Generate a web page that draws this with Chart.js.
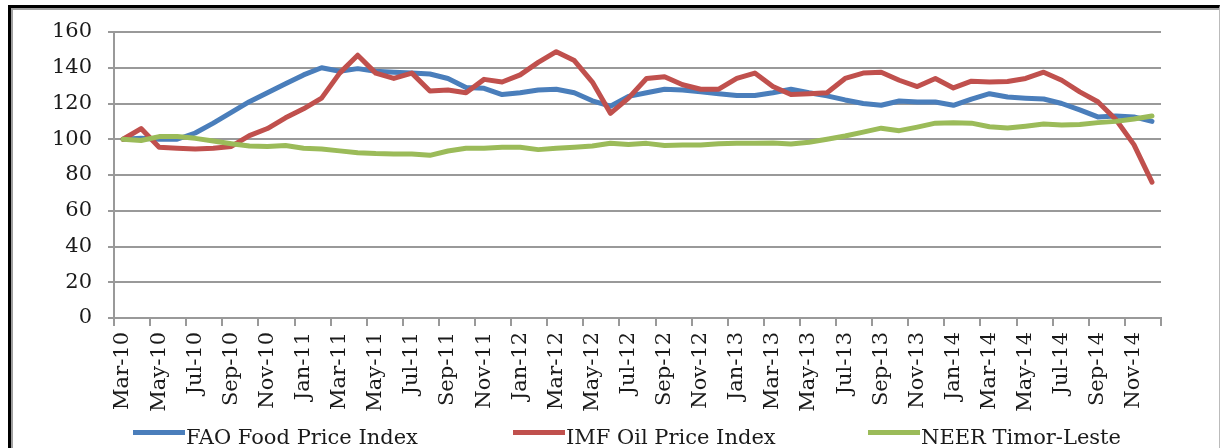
<!doctype html>
<html lang="en">
<head>
<meta charset="utf-8">
<title>FAO Food, IMF Oil and NEER Timor-Leste</title>
<script src="https://cdn.jsdelivr.net/npm/chart.js@4.4.1/dist/chart.umd.min.js"></script>
<style>
  html, body { margin: 0; padding: 0; background: #fff; overflow: hidden; }
  #wrap { position: relative; width: 1220px; height: 448px; overflow: hidden; }
  #cv { position: absolute; left: 0; top: 0; width: 1220px; height: 448px; }
  #frame {
    position: absolute; left: 8px; top: 5px; width: 1208px; height: 470px;
    border-left: 3px solid #000; border-top: 3px solid #000; border-right: 1px solid #bbb;
    box-shadow: inset 2px 2px 0 #a0a0a0; pointer-events: none;
  }
  .lg-line { position: absolute; height: 5px; top: 430px; width: 52px; }
  .lg-text { position: absolute; top: 427px; font: 21px/21px 'DejaVu Serif', serif; color: #1a1a1a; white-space: nowrap; }
</style>
</head>
<body>
<div id="wrap">
  <canvas id="cv"></canvas>
  <div id="legend"></div>
  <div id="frame"></div>
</div>
<script>
// monthly, Mar-10 .. Dec-14 (index = 100 at Mar-10)
const months = [
  "Mar-10","Apr-10","May-10","Jun-10","Jul-10","Aug-10","Sep-10","Oct-10","Nov-10","Dec-10",
  "Jan-11","Feb-11","Mar-11","Apr-11","May-11","Jun-11","Jul-11","Aug-11","Sep-11","Oct-11","Nov-11","Dec-11",
  "Jan-12","Feb-12","Mar-12","Apr-12","May-12","Jun-12","Jul-12","Aug-12","Sep-12","Oct-12","Nov-12","Dec-12",
  "Jan-13","Feb-13","Mar-13","Apr-13","May-13","Jun-13","Jul-13","Aug-13","Sep-13","Oct-13","Nov-13","Dec-13",
  "Jan-14","Feb-14","Mar-14","Apr-14","May-14","Jun-14","Jul-14","Aug-14","Sep-14","Oct-14","Nov-14","Dec-14"
];

const faoFood = [
  100, 100.5, 100, 100, 103.5, 109, 115, 121, 126, 131,
  136, 140, 138, 139.5, 138, 137.5, 137, 136.5, 134, 129, 128.5, 125,
  126, 127.5, 128, 126, 121.5, 118.5, 124, 126, 128, 127.5, 126.5, 125.5,
  124.5, 124.5, 126, 128, 126, 124.3, 122, 120, 119, 121.4, 120.8, 120.8,
  119, 122.5, 125.5, 123.6, 123, 122.5, 120, 116.4, 112.5, 113, 112.5, 110
];

const imfOil = [
  100, 106, 95.5, 95, 94.5, 95, 96, 102, 106, 112,
  117, 123, 137, 147, 137, 134, 137, 127, 127.5, 126, 133.5, 132,
  136, 143, 149, 144, 132, 114.5, 123, 134, 135, 130.5, 128, 128,
  134, 137, 129.5, 125, 125.5, 126, 134, 137, 137.5, 133, 129.5, 134,
  128.7, 132.5, 132, 132.3, 134, 137.5, 133, 126.5, 121, 111, 97, 76
];

const neer = [
  100, 99.3, 101.5, 101.5, 100.5, 99, 97.5, 96.2, 96, 96.5,
  95, 94.5, 93.5, 92.5, 92, 91.8, 91.7, 91, 93.4, 95, 95, 95.5,
  95.5, 94.2, 95, 95.5, 96.2, 97.8, 97, 97.7, 96.5, 96.8, 96.8, 97.5,
  97.8, 97.8, 97.9, 97.3, 98.3, 100, 101.8, 104, 106.2, 104.8, 106.8, 109,
  109.3, 109, 107, 106.3, 107.3, 108.5, 108, 108.3, 109.3, 110, 111.3, 113
];

const yTicks = [0, 20, 40, 60, 80, 100, 120, 140, 160];

const seriesNames = ["FAO Food Price Index", "IMF Oil Price Index", "NEER Timor-Leste"];
const seriesColors = ["#4a7ebb", "#c0504d", "#9bbb59"];

const GRID = "#999999";
const INK = "#1a1a1a";
const FONT = "'DejaVu Serif', serif";

function line(i, data, order) {
  return {
    label: seriesNames[i], data, order,
    borderColor: seriesColors[i], backgroundColor: seriesColors[i],
    borderWidth: 5, pointRadius: 0, tension: 0,
    borderJoinStyle: "round", borderCapStyle: "round",
  };
}

new Chart(document.getElementById("cv"), {
  type: "line",
  data: {
    labels: months,
    // Excel draws later series on top -> lower order = on top
    datasets: [line(0, faoFood, 2), line(1, imfOil, 1), line(2, neer, 0)],
  },
  options: {
    responsive: true, maintainAspectRatio: false, animation: false,
    layout: { padding: { left: 0, right: 59, top: 32, bottom: 0 } },
    plugins: { legend: { display: false }, tooltip: { enabled: false } },
    scales: {
      x: {
        type: "category", offset: true,
        grid: {
          offset: true, drawOnChartArea: false, drawTicks: true, tickLength: 8, lineWidth: 2,
          // tick marks only every second month boundary (plus the closing one)
          tickColor: (ctx) => (ctx.index === undefined || ctx.index % 2 === 0 ? GRID : "rgba(0,0,0,0)"),
        },
        border: { display: true, color: GRID, width: 2 },
        ticks: {
          autoSkip: false, maxRotation: 90, minRotation: 90, padding: 6,
          color: INK, font: { family: FONT, size: 21 },
          callback: function (v, i) { return i % 2 === 0 ? this.getLabelForValue(v) : ""; },
        },
        afterFit: (s) => { s.height = 130; },
      },
      y: {
        min: 0, max: 160,
        afterBuildTicks: (s) => { s.ticks = yTicks.map((v) => ({ value: v })); },
        grid: { color: GRID, lineWidth: 2, tickLength: 6, tickColor: GRID },
        border: { display: true, color: GRID, width: 2 },
        ticks: { padding: 16, color: INK, font: { family: FONT, size: 21 } },
        afterFit: (s) => { s.width = 114; },
      },
    },
  },
});

// legend, laid out like the original (sample line + text per series)
const legendX = [133, 513, 868];
const lg = document.getElementById("legend");
seriesNames.forEach((name, i) => {
  const ln = document.createElement("div");
  ln.className = "lg-line";
  ln.style.left = legendX[i] + "px";
  ln.style.background = seriesColors[i];
  lg.appendChild(ln);
  const tx = document.createElement("span");
  tx.className = "lg-text";
  tx.style.left = (legendX[i] + 53) + "px";
  tx.textContent = name;
  lg.appendChild(tx);
});
</script>
</body>
</html>
